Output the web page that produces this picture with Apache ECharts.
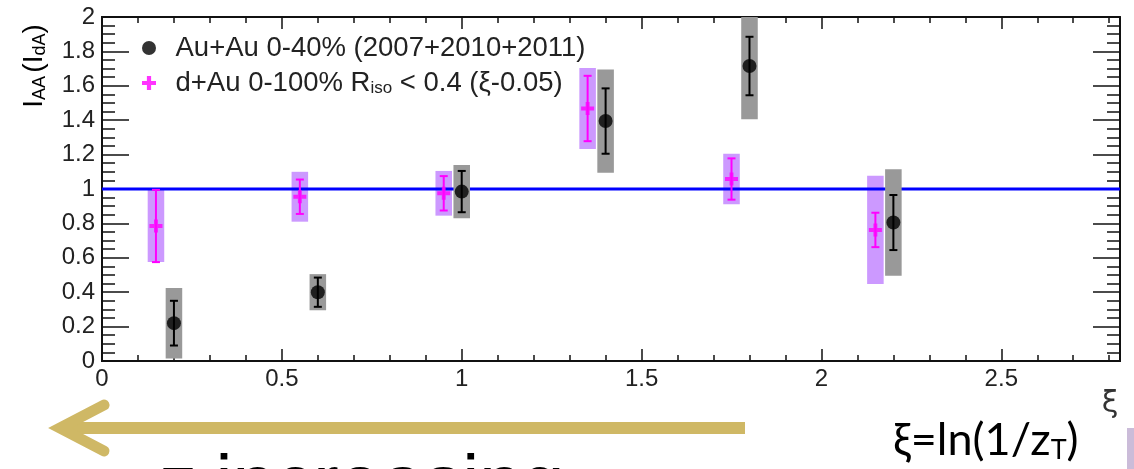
<!DOCTYPE html>
<html>
<head>
<meta charset="utf-8">
<script src="https://cdn.jsdelivr.net/npm/echarts@6/dist/echarts.min.js"></script>
<style>
html,body{margin:0;padding:0;background:#fff;}
#chart{width:1134px;height:469px;}
</style>
</head>
<body>
<div id="chart"></div>
<script>
// ---- data ----
const xiAuAu   = [0.2, 0.6, 1.0, 1.4, 1.8, 2.2];
const iaaAuAu  = [0.22, 0.40, 0.985, 1.395, 1.715, 0.805];
const statAuAu = [0.13, 0.085, 0.12, 0.19, 0.17, 0.16];
const sysAuAu  = [0.205, 0.105, 0.155, 0.30, 0.31, 0.31];

const xiDAu    = [0.15, 0.55, 0.95, 1.35, 1.75, 2.15];
const idA      = [0.785, 0.955, 0.975, 1.468, 1.058, 0.762];
const statDAu  = [0.21, 0.10, 0.10, 0.19, 0.12, 0.10];
const sysDAu   = [0.21, 0.145, 0.13, 0.235, 0.147, 0.315];

const refLineX = [0, 2.83];
const refLineY = [1, 1];

const xTickLabels = ['0', '0.5', '1', '1.5', '2', '2.5'];
const yTickLabels = ['0', '0.2', '0.4', '0.6', '0.8', '1', '1.2', '1.4', '1.6', '1.8', '2'];

const legendAuAu = 'Au+Au 0-40% (2007+2010+2011)';
const legendDAu  = ['d+Au 0-100% R', 'iso', ' < 0.4 (ξ-0.05)'];

// ---- styles / layout ----
const X_MIN = 0, X_MAX = 2.83, Y_MIN = 0, Y_MAX = 2;
const BOX_HW = 0.023;
const FONT = '"Liberation Sans", Arial, sans-serif';
const G_LEFT = 102, G_RIGHT = 14, G_TOP = 17, G_BOTTOM = 108, W = 1134, H = 469;
const G_W = W - G_LEFT - G_RIGHT, G_H = H - G_TOP - G_BOTTOM;

const chart = echarts.init(document.getElementById('chart'), null, {renderer: 'canvas'});

function boxRender(color) {
  return function (params, api) {
    const x = api.value(0), y = api.value(1), s = api.value(2);
    const p1 = api.coord([x - BOX_HW, y + s]);
    const p2 = api.coord([x + BOX_HW, y - s]);
    const cs = params.coordSys;
    const rect = echarts.graphic.clipRectByRect(
      {x: p1[0], y: p1[1], width: p2[0] - p1[0], height: p2[1] - p1[1]},
      {x: cs.x, y: cs.y, width: cs.width, height: cs.height});
    return rect && {type: 'rect', shape: rect, style: {fill: color}};
  };
}
function errRender(color) {
  return function (params, api) {
    const x = api.value(0), y = api.value(1), e = api.value(2);
    const top = api.coord([x, y + e]);
    const bot = api.coord([x, y - e]);
    const cw = 4;
    const st = {stroke: color, lineWidth: 2};
    return {type: 'group', children: [
      {type: 'line', shape: {x1: top[0], y1: top[1], x2: bot[0], y2: bot[1]}, style: st},
      {type: 'line', shape: {x1: top[0] - cw, y1: top[1], x2: top[0] + cw, y2: top[1]}, style: st},
      {type: 'line', shape: {x1: bot[0] - cw, y1: bot[1], x2: bot[0] + cw, y2: bot[1]}, style: st}
    ]};
  };
}

const plusPath = 'path://M3.5,0H6.5V3.5H10V6.5H6.5V10H3.5V6.5H0V3.5H3.5Z';

const lineSt = {show: true, onZero: false, lineStyle: {color: '#111', width: 2}};
const xTick = {show: true, length: 12, lineStyle: {color: '#111', width: 1.5}};
const xMinor = {show: true, splitNumber: 5, length: 6, lineStyle: {color: '#111', width: 1.5}};
const yTick = {show: true, length: 27, lineStyle: {color: '#111', width: 1.5}};
const yMinor = {show: true, splitNumber: 4, length: 13, lineStyle: {color: '#111', width: 1.5}};

function xAx(extra) {
  return Object.assign({type: 'value', min: X_MIN, max: X_MAX, interval: 0.5,
    axisLine: lineSt, splitLine: {show: false}, axisLabel: {show: false},
    axisTick: xTick, minorTick: xMinor}, extra);
}
function yAx(extra) {
  return Object.assign({type: 'value', min: Y_MIN, max: Y_MAX, interval: 0.2,
    axisLine: lineSt, splitLine: {show: false}, axisLabel: {show: false},
    axisTick: yTick, minorTick: yMinor}, extra);
}

const option = {
  animation: false,
  backgroundColor: '#fff',
  grid: {left: G_LEFT, right: G_RIGHT, top: G_TOP, bottom: G_BOTTOM, containLabel: false},
  xAxis: [
    xAx({position: 'bottom', axisTick: {show: false}, minorTick: {show: false},
      axisLabel: {show: true, margin: 6, color: '#222', fontFamily: FONT, fontSize: 24,
        showMaxLabel: false,
        formatter: function (v) { const i = Math.round(v / 0.5); return xTickLabels[i] !== undefined ? xTickLabels[i] : ''; }}}),
    // a top-type axis moved to the bottom edge: its ticks point up, into the plot
    xAx({position: 'top', offset: -G_H}),
    // a bottom-type axis moved to the top edge: its ticks point down, into the plot
    xAx({position: 'bottom', offset: -G_H})
  ],
  yAxis: [
    yAx({position: 'left', axisTick: {show: false}, minorTick: {show: false},
      axisLabel: {show: true, margin: 7, color: '#222', fontFamily: FONT, fontSize: 24,
        formatter: function (v) { const i = Math.round(v / 0.2); return yTickLabels[i] !== undefined ? yTickLabels[i] : ''; }}}),
    // a right-type axis moved to the left edge: ticks point right
    yAx({position: 'right', offset: -G_W}),
    // a left-type axis moved to the right edge: ticks point left
    yAx({position: 'left', offset: -G_W})
  ],
  legend: {
    show: true, orient: 'vertical', left: 137, top: 29,
    itemWidth: 43, itemHeight: 14, itemGap: 6, selectedMode: false,
    data: ['AuAu', 'dAu'],
    textStyle: {fontFamily: FONT, fontSize: 27.5, color: '#222', lineHeight: 28,
      rich: {
        a: {fontFamily: FONT, fontSize: 27.5, color: '#222', lineHeight: 28},
        sub: {fontFamily: FONT, fontSize: 17, color: '#222', lineHeight: 28, verticalAlign: 'bottom', padding: [12, 0, 0, 0]}
      }},
    formatter: function (name) {
      if (name === 'AuAu') return '{a|' + legendAuAu + '}';
      return '{a|' + legendDAu[0] + '}{sub|' + legendDAu[1] + '}{a|' + legendDAu[2] + '}';
    }
  },
  series: [
    {
      name: 'dAuSys', type: 'custom', z: 1, silent: true,
      renderItem: boxRender('#cc99ff'),
      data: xiDAu.map((x, i) => [x, idA[i], sysDAu[i]])
    },
    {
      name: 'ref', type: 'line', z: 2, silent: true, symbol: 'none',
      lineStyle: {color: '#0000ff', width: 3},
      data: refLineX.map((x, i) => [x, refLineY[i]])
    },
    {
      name: 'AuAuSys', type: 'custom', z: 3, silent: true,
      renderItem: boxRender('#999999'),
      data: xiAuAu.map((x, i) => [x, iaaAuAu[i], sysAuAu[i]])
    },
    {
      name: 'dAuStat', type: 'custom', z: 4, silent: true,
      renderItem: errRender('#ff00ff'),
      data: xiDAu.map((x, i) => [x, idA[i], statDAu[i]])
    },
    {
      name: 'AuAuStat', type: 'custom', z: 4, silent: true,
      renderItem: errRender('#000000'),
      data: xiAuAu.map((x, i) => [x, iaaAuAu[i], statAuAu[i]])
    },
    {
      name: 'dAu', type: 'scatter', z: 5, symbol: plusPath, symbolSize: 13,
      itemStyle: {color: '#ff00ff'},
      data: xiDAu.map((x, i) => [x, idA[i]])
    },
    {
      name: 'AuAu', type: 'scatter', z: 5, symbol: 'circle', symbolSize: 14,
      itemStyle: {color: '#000000'},
      data: xiAuAu.map((x, i) => [x, iaaAuAu[i]])
    }
  ],
  graphic: [
    {
      type: 'text', x: 34, y: 66, rotation: Math.PI / 2,
      style: {
        text: '{i|I}{s|AA} {p|(I}{ps|dA}{p|)}',
        align: 'center', verticalAlign: 'middle',
        rich: {
          i: {fontFamily: FONT, fontSize: 28, color: '#111', lineHeight: 30},
          s: {fontFamily: FONT, fontSize: 18, color: '#111', lineHeight: 30, verticalAlign: 'bottom', padding: [9, 0, 0, 0]},
          p: {fontFamily: FONT, fontSize: 28, color: '#7030a0', lineHeight: 30},
          ps: {fontFamily: FONT, fontSize: 18, color: '#7030a0', lineHeight: 30, verticalAlign: 'bottom', padding: [9, 0, 0, 0]}
        }
      }
    },
    {
      type: 'text', x: 1110, y: 404,
      style: {text: 'ξ', fontFamily: '"DejaVu Sans", sans-serif', fontSize: 30, fill: '#333', align: 'center', verticalAlign: 'middle'}
    },
    {
      type: 'line', shape: {x1: 745, y1: 428, x2: 66, y2: 428},
      style: {stroke: '#cfb865', lineWidth: 12}
    },
    {
      type: 'polyline', shape: {points: [[104, 405], [60, 428], [104, 451]]},
      style: {stroke: '#cfb865', lineWidth: 11, lineCap: 'round', lineJoin: 'miter', fill: null}
    },
    {
      type: 'text', x: 893, y: 440,
      style: {
        text: '{m|ξ=ln(1/z}{t|T}{m|)}',
        align: 'left', verticalAlign: 'middle',
        rich: {
          m: {fontFamily: 'Lato, "Open Sans", sans-serif', fontSize: 45, color: '#111', lineHeight: 48},
          t: {fontFamily: 'Lato, "Open Sans", sans-serif', fontSize: 27, color: '#111', lineHeight: 48, verticalAlign: 'bottom', padding: [14, 0, 0, 0]}
        }
      }
    },
    {
      type: 'text', x: 159, y: 487,
      style: {
        text: '{m|z}{t|T}{m|increasing}',
        align: 'left', verticalAlign: 'middle',
        rich: {
          m: {fontFamily: FONT, fontSize: 76.5, color: '#c2a74a', lineHeight: 80},
          t: {fontFamily: FONT, fontSize: 30, color: '#c2a74a', lineHeight: 80, verticalAlign: 'bottom', padding: [24, 0, 0, 0]}
        }
      }
    },
    {
      type: 'rect', shape: {x: 1127, y: 428, width: 7, height: 41},
      style: {fill: '#cbbcd9'}
    }
  ]
};
chart.setOption(option);
</script>
</body>
</html>
